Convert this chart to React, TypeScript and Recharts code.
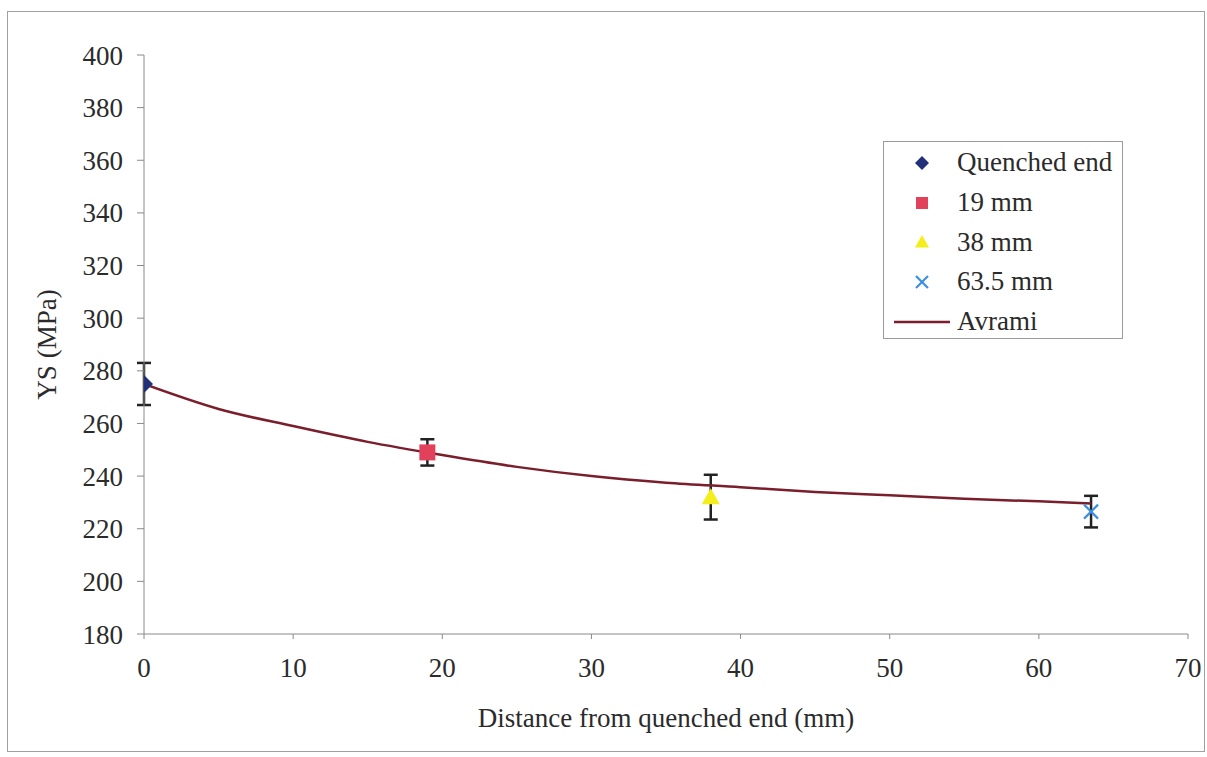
import {
  ComposedChart,
  Line,
  Scatter,
  ErrorBar,
  XAxis,
  YAxis,
  Label,
} from 'recharts';

// Measured yield strength along the Jominy bar, with the Avrami prediction
const quenchedEnd = [{ x: 0, y: 275, err: 8 }];
const at19mm = [{ x: 19, y: 249, err: 5 }];
const at38mm = [{ x: 38, y: 232, err: 8.5 }];
const at63mm = [{ x: 63.5, y: 226.5, err: 6 }];

const avrami = [
  { x: 0, y: 275 },
  { x: 5, y: 265.5 },
  { x: 10, y: 259 },
  { x: 15, y: 253 },
  { x: 20, y: 248 },
  { x: 25, y: 243.5 },
  { x: 30, y: 240 },
  { x: 35, y: 237.5 },
  { x: 40, y: 235.8 },
  { x: 45, y: 234 },
  { x: 50, y: 232.7 },
  { x: 55, y: 231.4 },
  { x: 60, y: 230.4 },
  { x: 63.5, y: 229.6 },
];

const xTicks = [0, 10, 20, 30, 40, 50, 60, 70];
const yTicks = [180, 200, 220, 240, 260, 280, 300, 320, 340, 360, 380, 400];

const FONT = '"Liberation Serif", "Times New Roman", serif';
const FONT_SIZE = 27;
const TEXT = '#2b2b2b';
const AXIS = '#8a8a8a';

const COLORS = {
  quenched: '#22307a',
  mm19: '#e2415c',
  mm38: '#f4ee1c',
  mm63: '#3b8ee0',
  avrami: '#7a1e2c',
};

const Diamond = ({ cx, cy, size = 9, fill }: any) => (
  <polygon
    points={`${cx},${cy - size} ${cx + size},${cy} ${cx},${cy + size} ${cx - size},${cy}`}
    fill={fill}
  />
);

const Square = ({ cx, cy, size = 8, fill }: any) => (
  <rect x={cx - size} y={cy - size} width={size * 2} height={size * 2} fill={fill} />
);

const Triangle = ({ cx, cy, size = 9, fill }: any) => (
  <polygon
    points={`${cx},${cy - size} ${cx + size},${cy + size * 0.8} ${cx - size},${cy + size * 0.8}`}
    fill={fill}
  />
);

const Cross = ({ cx, cy, size = 7, stroke }: any) => (
  <g stroke={stroke} strokeWidth={2.2}>
    <line x1={cx - size} y1={cy - size} x2={cx + size} y2={cy + size} />
    <line x1={cx - size} y1={cy + size} x2={cx + size} y2={cy - size} />
  </g>
);

const legendItems = [
  { label: 'Quenched end', icon: <Diamond cx={14} cy={10} size={7} fill={COLORS.quenched} /> },
  { label: '19 mm', icon: <Square cx={14} cy={10} size={6} fill={COLORS.mm19} /> },
  { label: '38 mm', icon: <Triangle cx={14} cy={10} size={7} fill={COLORS.mm38} /> },
  { label: '63.5 mm', icon: <Cross cx={14} cy={10} size={6} stroke={COLORS.mm63} /> },
  {
    label: 'Avrami',
    icon: <line x1={-14} y1={10} x2={42} y2={10} stroke={COLORS.avrami} strokeWidth={2.5} />,
  },
];

const ChartLegend = () => (
  <div
    style={{
      position: 'absolute',
      left: 883,
      top: 141,
      width: 240,
      height: 198,
      border: '1.5px solid #9a9a9a',
      background: '#fff',
      boxSizing: 'border-box',
      fontFamily: FONT,
      fontSize: FONT_SIZE,
      color: TEXT,
      paddingTop: 1,
    }}
  >
    {legendItems.map((item) => (
      <div key={item.label} style={{ display: 'flex', alignItems: 'center', height: 39.7 }}>
        <svg width={70} height={20} style={{ overflow: 'visible', marginLeft: 24 }}>
          {item.icon}
        </svg>
        <span style={{ marginLeft: -21, whiteSpace: 'nowrap' }}>{item.label}</span>
      </div>
    ))}
  </div>
);

const App = () => {
  return (
    <div style={{ position: 'absolute', left: 0, top: 0, width: 1207, height: 757, background: '#fff' }}>
      <div
        style={{
          position: 'absolute',
          left: 7,
          top: 11,
          width: 1198,
          height: 741,
          border: '1.5px solid #a0a0a0',
          boxSizing: 'border-box',
        }}
      />
      <ComposedChart
        width={1207}
        height={757}
        margin={{ top: 55, right: 19, bottom: 63, left: 34 }}
        style={{ position: 'absolute', left: 0, top: 0 }}
      >
        <XAxis
          type="number"
          dataKey="x"
          domain={[0, 70]}
          ticks={xTicks}
          allowDataOverflow
          height={60}
          stroke={AXIS}
          tickSize={5}
          tickMargin={19}
          tick={{ fill: TEXT, fontFamily: FONT, fontSize: FONT_SIZE }}
        >
          <Label
            content={({ viewBox }: any) => (
              <text
                x={viewBox.x + viewBox.width / 2}
                y={viewBox.y + 93}
                textAnchor="middle"
                fill={TEXT}
                fontFamily={FONT}
                fontSize={FONT_SIZE}
              >
                Distance from quenched end (mm)
              </text>
            )}
          />
        </XAxis>
        <YAxis
          type="number"
          domain={[180, 400]}
          ticks={yTicks}
          width={110}
          stroke={AXIS}
          tickSize={7}
          tickMargin={14}
          tick={{ fill: TEXT, fontFamily: FONT, fontSize: FONT_SIZE }}
        >
          <Label
            content={({ viewBox }: any) => {
              const cx = viewBox.x + 13;
              const cy = viewBox.y + viewBox.height / 2;
              return (
                <text
                  x={cx}
                  y={cy}
                  transform={`rotate(-90 ${cx} ${cy})`}
                  textAnchor="middle"
                  dominantBaseline="central"
                  fill={TEXT}
                  fontFamily={FONT}
                  fontSize={FONT_SIZE}
                >
                  YS (MPa)
                </text>
              );
            }}
          />
        </YAxis>

        <Scatter
          data={quenchedEnd}
          dataKey="y"
          isAnimationActive={false}
          shape={(p: any) => <Diamond cx={p.cx} cy={p.cy} fill={COLORS.quenched} />}
        >
          <ErrorBar dataKey="err" direction="y" width={7} stroke="#222" strokeWidth={2.5} />
        </Scatter>
        <Scatter
          data={at19mm}
          dataKey="y"
          isAnimationActive={false}
          shape={(p: any) => <Square cx={p.cx} cy={p.cy} fill={COLORS.mm19} />}
        >
          <ErrorBar dataKey="err" direction="y" width={7} stroke="#222" strokeWidth={2.5} />
        </Scatter>
        <Scatter
          data={at38mm}
          dataKey="y"
          isAnimationActive={false}
          shape={(p: any) => <Triangle cx={p.cx} cy={p.cy} fill={COLORS.mm38} />}
        >
          <ErrorBar dataKey="err" direction="y" width={7} stroke="#222" strokeWidth={2.5} />
        </Scatter>
        <Scatter
          data={at63mm}
          dataKey="y"
          isAnimationActive={false}
          shape={(p: any) => <Cross cx={p.cx} cy={p.cy} stroke={COLORS.mm63} />}
        >
          <ErrorBar dataKey="err" direction="y" width={7} stroke="#222" strokeWidth={2.5} />
        </Scatter>

        <Line
          data={avrami}
          dataKey="y"
          type="monotone"
          stroke={COLORS.avrami}
          strokeWidth={2.5}
          dot={false}
          activeDot={false}
          isAnimationActive={false}
        />
      </ComposedChart>
      <ChartLegend />
    </div>
  );
};

export default App;
